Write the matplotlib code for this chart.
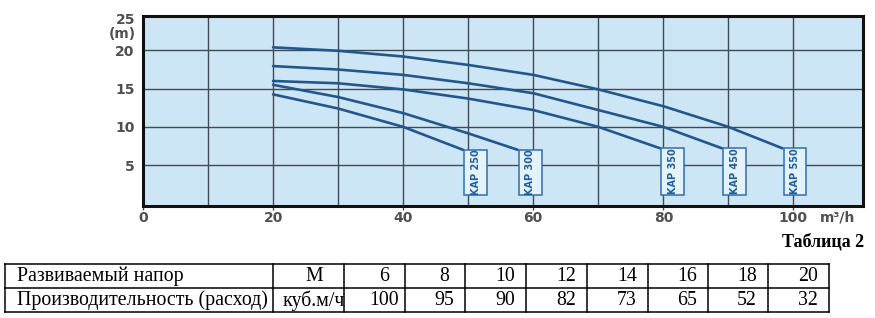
import matplotlib.pyplot as plt
from matplotlib.patches import Rectangle

# pump curves (flow m3/h, head m)
kap250_x = [20, 30, 40, 49.2]
kap250_y = [14.25, 12.4, 10.0, 7.0]
kap300_x = [20, 30, 40, 50, 57.6]
kap300_y = [15.5, 13.9, 11.8, 9.15, 7.0]
kap350_x = [20, 30, 40, 50, 60, 70, 79.5]
kap350_y = [16.0, 15.7, 14.9, 13.7, 12.2, 10.0, 7.2]
kap450_x = [20, 30, 40, 50, 60, 70, 80, 89]
kap450_y = [17.95, 17.5, 16.8, 15.7, 14.4, 12.2, 10.0, 7.2]
kap550_x = [20, 30, 40, 50, 60, 70, 80, 90, 98.3]
kap550_y = [20.4, 19.95, 19.2, 18.1, 16.8, 14.9, 12.7, 10.0, 7.2]
curve_names = ['KAP 250', 'KAP 300', 'KAP 350', 'KAP 450', 'KAP 550']

x_ticks = [0, 20, 40, 60, 80, 100]
y_ticks = [5, 10, 15, 20]

# table 2
row_labels = ['Развиваемый напор', 'Производительность (расход)']
row_units = ['М', 'куб.м/ч']
head_vals = [6, 8, 10, 12, 14, 16, 18, 20]
flow_vals = [100, 95, 90, 82, 73, 65, 52, 32]

W, H = 875, 318
fig = plt.figure(figsize=(W / 100, H / 100), dpi=100)

bg = '#cde6f6'
curve_col = '#23578c'
grid_col = '#3f4a56'
tick_col = '#505050'
tick_font = dict(fontsize=10, fontweight='bold', color=tick_col,
                 family='DejaVu Sans')

ax = fig.add_axes([143 / W, 1 - 206 / H, (863 - 143) / W, (206 - 16) / H])
ax.set_facecolor(bg)
ax.set_xlim(0, 110.7)
ax.set_ylim(-0.35, 24.5)

for gx in range(10, 110, 10):
    ax.axvline(gx, color=grid_col, lw=1.0, zorder=1)
for gy in y_ticks:
    ax.axhline(gy, color=grid_col, lw=1.0, zorder=1)

for sp in ax.spines.values():
    sp.set_color('#111111')
    sp.set_linewidth(2.2)

curves = [(kap250_x, kap250_y), (kap300_x, kap300_y), (kap350_x, kap350_y),
          (kap450_x, kap450_y), (kap550_x, kap550_y)]
for (xs, ys), name in zip(curves, curve_names):
    ax.plot(xs, ys, color=curve_col, lw=1.9, solid_capstyle='round', zorder=3)
    x0, y0 = xs[-1] + 0.2, ys[-1]
    box = Rectangle((x0, 1.1), 3.5, y0 - 1.1, facecolor='#e4f2fb',
                    edgecolor='#2f6fae', lw=1.1, zorder=4)
    ax.add_patch(box)
    ax.text(x0 + 1.75, (y0 + 1.1) / 2, name, rotation=90, ha='center',
            va='center', fontsize=7, fontweight='bold', color='#1f5f9f',
            family='DejaVu Sans', zorder=5)

ax.set_xticks(x_ticks)
ax.set_xticklabels([str(v) for v in x_ticks])
ax.set_yticks(y_ticks)
ax.set_yticklabels([str(v) for v in y_ticks])
ax.tick_params(axis='x', length=3, width=1, color=grid_col, pad=0.5)
ax.tick_params(axis='y', length=0, pad=6)
for lab in ax.get_xticklabels() + ax.get_yticklabels():
    lab.set_fontweight('bold')
    lab.set_family('DejaVu Sans')
    lab.set_fontsize(10)
    lab.set_color(tick_col)
ax.text(-1.1, 24.0, '25', ha='right', va='center', clip_on=False, **tick_font)
ax.text(-1.1, 22.1, '(m)', ha='right', va='center', clip_on=False,
        **tick_font)
ax.text(104.0, -1.85, 'm³/h', ha='left', va='center', clip_on=False,
        **tick_font)

# table drawn in pixel coordinates
tx = fig.add_axes([0, 0, 1, 1])
tx.set_xlim(0, W)
tx.set_ylim(H, 0)
tx.axis('off')
tx.patch.set_alpha(0)

cols = [5, 273, 344, 405, 465, 526, 587, 648, 708, 768, 829]
rows = [264, 288, 312]
for cx in cols:
    tx.plot([cx, cx], [rows[0], rows[-1]], color='black', lw=1.1)
for ry in rows:
    tx.plot([cols[0], cols[-1]], [ry, ry], color='black', lw=1.1)

serif = 'Liberation Serif'
fs = 14.3
tx.text(864, 242, 'Таблица 2', ha='right', va='center', fontsize=13,
        fontweight='bold', family=serif)
for i, (lab, unit, vals) in enumerate(zip(row_labels, row_units,
                                          [head_vals, flow_vals])):
    cy = (rows[i] + rows[i + 1]) / 2 + 0.5
    tx.text(17, cy, lab, ha='left', va='center', fontsize=fs, family=serif)
    if i == 0:
        tx.text(314, cy, unit, ha='center', va='center', fontsize=fs,
                family=serif)
    else:
        t = tx.text(283, cy, unit, ha='left', va='center', fontsize=fs,
                    family=serif)
        clip = Rectangle((cols[1], rows[i]), cols[2] - cols[1], 24,
                         transform=tx.transData, visible=False)
        tx.add_patch(clip)
        t.set_clip_path(clip)
    for j, v in enumerate(vals):
        tx.text(cols[j + 3] - 21, cy, str(v), ha='center', va='center',
                fontsize=fs, family=serif)

fig.savefig('out.png', dpi=100)
